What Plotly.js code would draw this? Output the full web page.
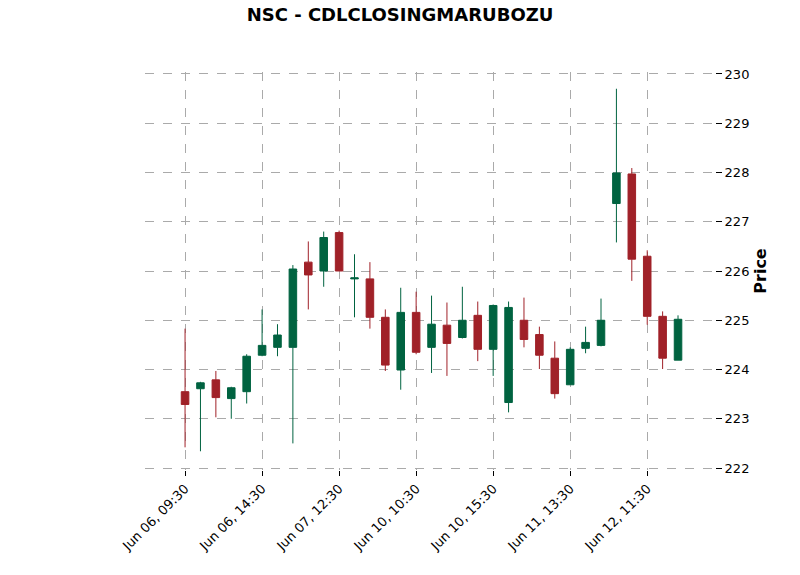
<!DOCTYPE html>
<html>
<head>
<meta charset="utf-8">
<script src="https://cdn.plot.ly/plotly-3.0.1.min.js"></script>
<style>body{margin:0;background:#fff}</style>
</head>
<body>
<div id="chart" style="width:800px;height:575px"></div>
<script>
// hourly bars, Jun 06 - Jun 12
const times = [
  'Jun 06, 09:30','Jun 06, 10:30','Jun 06, 11:30','Jun 06, 12:30','Jun 06, 13:30','Jun 06, 14:30','Jun 06, 15:30',
  'Jun 07, 09:30','Jun 07, 10:30','Jun 07, 11:30','Jun 07, 12:30','Jun 07, 13:30','Jun 07, 14:30','Jun 07, 15:30',
  'Jun 10, 09:30','Jun 10, 10:30','Jun 10, 11:30','Jun 10, 12:30','Jun 10, 13:30','Jun 10, 14:30','Jun 10, 15:30',
  'Jun 11, 09:30','Jun 11, 10:30','Jun 11, 11:30','Jun 11, 12:30','Jun 11, 13:30','Jun 11, 14:30','Jun 11, 15:30',
  'Jun 12, 09:30','Jun 12, 10:30','Jun 12, 11:30','Jun 12, 12:30','Jun 12, 13:30'
];
const open  = [223.55,223.61,223.79,223.41,223.55,224.29,224.45,224.45,226.18,226.0,226.78,225.84,225.84,225.06,223.99,225.16,224.45,224.9,224.65,225.1,224.41,223.33,225.0,224.71,224.23,223.69,224.43,224.49,227.37,227.97,226.3,225.08,224.19];
const high  = [224.83,223.75,223.97,223.65,224.31,225.22,224.92,226.12,226.6,226.8,226.82,226.34,226.18,225.22,225.66,225.58,225.5,225.36,225.68,225.38,225.32,225.38,225.46,224.87,224.57,224.45,224.87,225.44,229.7,228.09,226.42,225.18,225.1];
const low   = [222.42,222.34,223.03,223.0,223.31,224.27,224.27,222.5,225.22,225.68,226.0,225.06,224.83,223.97,223.59,224.31,223.93,223.87,224.63,224.17,223.87,223.13,224.45,224.01,223.41,223.69,224.33,224.47,226.58,225.8,224.91,224.01,224.19];
const close = [223.29,223.73,223.43,223.63,224.27,224.49,224.7,226.04,225.92,226.68,226.0,225.86,225.06,224.09,225.16,224.35,224.92,224.53,225.0,224.41,225.3,225.26,224.61,224.29,223.51,224.41,224.55,225.0,227.99,226.24,225.08,224.23,225.02];

const idx = times.map((t, i) => i);
const tickIdx = [0, 5, 10, 15, 20, 25, 30];

const trace = {
  type: 'candlestick',
  x: idx, open: open, high: high, low: low, close: close,
  increasing: {line: {color: '#006340', width: 1}, fillcolor: '#006340'},
  decreasing: {line: {color: '#a02128', width: 1}, fillcolor: '#a02128'},
  whiskerwidth: 0,
  hoverinfo: 'skip'
};

const layout = {
  width: 800, height: 575,
  margin: {l: 145, r: 85, t: 72, b: 105},
  showlegend: false,
  paper_bgcolor: '#fff', plot_bgcolor: '#fff',
  font: {family: 'DejaVu Sans', size: 13, color: '#000'},
  title: {text: '<b>NSC - CDLCLOSINGMARUBOZU</b>', x: 0.5, xanchor: 'center', y: 0.985, yanchor: 'top', font: {size: 18}},
  xaxis: {
    range: [-2.6, 34.4], rangeslider: {visible: false},
    tickvals: tickIdx, ticktext: tickIdx.map(i => times[i]), tickangle: -45,
    showgrid: true, gridcolor: '#aaa', griddash: 'dash', gridwidth: 0.6,
    ticks: 'outside', ticklen: 5, tickcolor: '#000', zeroline: false, showline: false
  },
  yaxis: {
    side: 'right', range: [221.96, 230.04], dtick: 1,
    title: {text: '<b>Price</b>', font: {size: 16}},
    showgrid: true, gridcolor: '#aaa', griddash: 'dash', gridwidth: 0.6,
    ticks: 'outside', ticklen: 6, tickcolor: '#000', zeroline: false, showline: false
  }
};

Plotly.newPlot('chart', [trace], layout, {displayModeBar: false});
</script>
</body>
</html>
